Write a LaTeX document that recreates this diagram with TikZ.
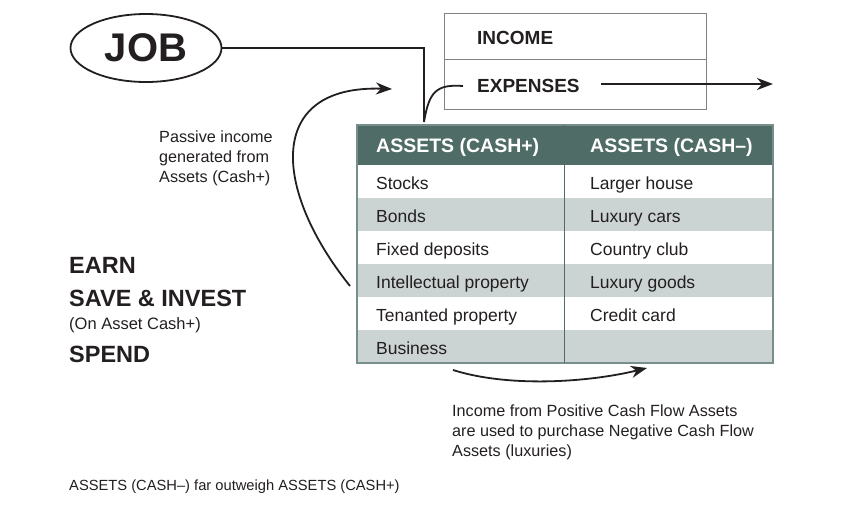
\documentclass[tikz,border=0pt]{standalone}
\usepackage{fontspec}
\setmainfont{Liberation Sans}
\usetikzlibrary{arrows.meta,shapes.geometric}
\definecolor{hdr}{RGB}{80,108,102}
\definecolor{rowg}{RGB}{203,212,210}
\definecolor{tbord}{RGB}{120,142,138}
\definecolor{boxl}{RGB}{130,130,130}
\definecolor{ink}{RGB}{35,31,32}
\begin{document}
\begin{tikzpicture}[x=1pt,y=-1pt,
  txt/.style={inner sep=0pt,anchor=west,text=ink},
  big/.style={txt,font=\fontsize{23.5}{28}\selectfont\bfseries},
  cell/.style={inner sep=0pt,anchor=base west,text=ink,font=\fontsize{17.5}{20}\selectfont},
  hcell/.style={inner sep=0pt,anchor=base west,text=white,font=\fontsize{19.5}{22}\selectfont\bfseries},
  note/.style={inner sep=0pt,anchor=north west,text=ink,align=left,font=\fontsize{16.2}{20}\selectfont},
  conn/.style={draw=ink,line width=1.8pt},
  arr/.style={conn,-{Stealth[length=16pt,width=12pt,inset=5pt]}}]
\useasboundingbox (0,0) rectangle (841,517);
% JOB ellipse
\node[ellipse,draw=ink,line width=1.8pt,minimum width=151pt,minimum height=68pt,inner sep=0pt,
  font=\fontsize{40}{44}\selectfont\bfseries,text=ink] (job) at (146,48) {JOB};
% Income / expenses box
\draw[boxl,line width=1pt] (444,13) rectangle (706,109);
\draw[boxl,line width=1pt] (444,59) -- (706,59);
\node[txt,font=\fontsize{19}{22}\selectfont\bfseries] (income) at (477,38) {INCOME};
\node[txt,font=\fontsize{19}{22}\selectfont\bfseries] (expenses) at (477,86) {EXPENSES};
\coordinate (expout) at (773,84);
\draw[arr] (601,84) -- (expout);
% table
\fill[hdr] (357,125) rectangle (773,165);
\foreach \i/\c in {0/white,1/rowg,2/white,3/rowg,4/white,5/rowg}{
  \fill[\c] (357,165+33*\i) rectangle (773,198+33*\i);
}
\draw[tbord,line width=1.3pt] (357,125) rectangle (773,363);
\draw[hdr,line width=1pt] (564,125) -- (564,363);
\node[hcell] (h1) at (376,152.5) {ASSETS (CASH+)};
\node[hcell] (h2) at (590,152.5) {ASSETS (CASH–)};
\node[cell] (a1) at (376,189) {Stocks};
\node[cell] (a2) at (376,222) {Bonds};
\node[cell] (a3) at (376,255) {Fixed deposits};
\node[cell] (a4) at (376,288) {Intellectual property};
\node[cell] (a5) at (376,321) {Tenanted property};
\node[cell] (a6) at (376,354) {Business};
\node[cell] (b1) at (590,189) {Larger house};
\node[cell] (b2) at (590,222) {Luxury cars};
\node[cell] (b3) at (590,255) {Country club};
\node[cell] (b4) at (590,288) {Luxury goods};
\node[cell] (b5) at (590,321) {Credit card};
% connectors
\coordinate (jc) at (424,48);
\coordinate (jd) at (424,122);
\draw[conn] (job.east) -- (jc) -- (jd);
\draw[conn] (jd) .. controls (429,92) and (436,84) .. ([xshift=-14pt]expenses.west);
\coordinate (ps) at (350,286);
\coordinate (pe) at (392,89);
\draw[arr] (ps) .. controls (273,190) and (265,85) .. (pe);
\coordinate (bs) at (453,370);
\coordinate (be) at (647,368);
\draw[arr] (bs) .. controls (510,388) and (590,382) .. (be);
% notes
\node[note] (passive) at (159,131) {Passive income\\generated from\\Assets (Cash+)};
\node[note] (incnote) at (452,405) {Income from Positive Cash Flow Assets\\are used to purchase Negative Cash Flow\\Assets (luxuries)};
\node[big] (earn) at (69,265) {EARN};
\node[big] (save) at (69,298) {SAVE \& INVEST};
\node[txt,font=\fontsize{16.5}{19}\selectfont] (on) at (69,325) {(On Asset Cash+)};
\node[big] (spend) at (69,354) {SPEND};
\node[txt,font=\fontsize{14.7}{17}\selectfont] (foot) at (69,487) {ASSETS (CASH–) far outweigh ASSETS (CASH+)};
\end{tikzpicture}
\end{document}
